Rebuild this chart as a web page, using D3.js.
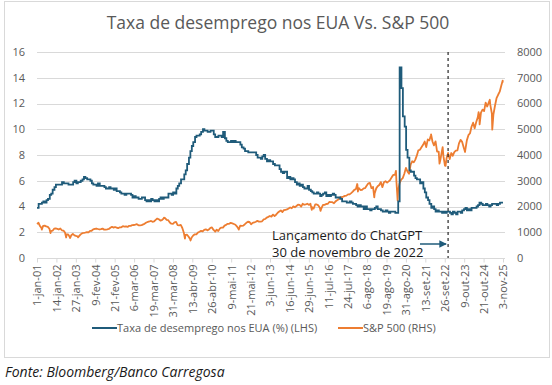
<!DOCTYPE html>
<html>
<head>
<meta charset="utf-8">
<script src="https://cdn.jsdelivr.net/npm/d3@7"></script>
<style>
  body { margin: 0; background: #fff; }
  text { font-family: "Open Sans", sans-serif; }
</style>
</head>
<body>
<div id="chart"></div>
<script>
// tick labels on the category axis (every 270 business days)
var tickLabels = ["1-jan-01","14-jan-02","27-jan-03","9-fev-04","21-fev-05","6-mar-06","19-mar-07",
  "31-mar-08","13-abr-09","26-abr-10","9-mai-11","21-mai-12","3-jun-13","16-jun-14","29-jun-15",
  "11-jul-16","24-jul-17","6-ago-18","19-ago-19","31-ago-20","13-set-21","26-set-22","9-out-23",
  "21-out-24","3-nov-25"];
var tickDates = ["2001-01-01","2002-01-14","2003-01-27","2004-02-09","2005-02-21","2006-03-06","2007-03-19",
  "2008-03-31","2009-04-13","2010-04-26","2011-05-09","2012-05-21","2013-06-03","2014-06-16","2015-06-29",
  "2016-07-11","2017-07-24","2018-08-06","2019-08-19","2020-08-31","2021-09-13","2022-09-26","2023-10-09",
  "2024-10-21","2025-11-03"];

// US unemployment rate (%), monthly, from Dec 2000 to Aug 2025
var unempStart = "2000-12";
var unemp = [3.9,
  4.2,4.2,4.3,4.4,4.3,4.5,4.6,4.9,5.0,5.3,5.5,5.7,
  5.7,5.7,5.7,5.9,5.8,5.8,5.8,5.7,5.7,5.7,5.9,6.0,
  5.8,5.9,5.9,6.0,6.1,6.3,6.2,6.1,6.1,6.0,5.8,5.7,
  5.7,5.6,5.8,5.6,5.6,5.6,5.5,5.4,5.4,5.5,5.4,5.4,
  5.3,5.4,5.2,5.2,5.1,5.0,5.0,4.9,5.0,5.0,5.0,4.9,
  4.7,4.8,4.7,4.7,4.6,4.6,4.7,4.7,4.5,4.4,4.5,4.4,
  4.6,4.5,4.4,4.5,4.4,4.6,4.7,4.6,4.7,4.7,4.7,5.0,
  5.0,4.9,5.1,5.0,5.4,5.6,5.8,6.1,6.1,6.5,6.8,7.3,
  7.8,8.3,8.7,9.0,9.4,9.5,9.5,9.6,9.8,10.0,9.9,9.9,
  9.8,9.8,9.9,9.9,9.6,9.4,9.4,9.5,9.5,9.4,9.8,9.3,
  9.1,9.0,9.0,9.1,9.0,9.1,9.0,9.0,9.0,8.8,8.6,8.5,
  8.3,8.3,8.2,8.2,8.2,8.2,8.2,8.0,7.8,7.8,7.7,7.9,
  8.0,7.7,7.5,7.6,7.5,7.5,7.3,7.2,7.2,7.2,6.9,6.7,
  6.6,6.7,6.7,6.2,6.3,6.1,6.2,6.1,5.9,5.7,5.8,5.6,
  5.7,5.5,5.4,5.4,5.6,5.3,5.2,5.1,5.0,5.0,5.1,5.0,
  4.8,4.9,5.0,5.1,4.8,4.9,4.8,4.9,5.0,4.9,4.7,4.7,
  4.7,4.6,4.4,4.4,4.4,4.3,4.3,4.4,4.3,4.2,4.2,4.1,
  4.0,4.1,4.0,4.0,3.8,4.0,3.8,3.8,3.7,3.8,3.8,3.9,
  4.0,3.8,3.8,3.7,3.6,3.6,3.7,3.6,3.5,3.6,3.6,3.6,
  3.5,3.5,4.4,14.8,13.2,11.0,10.2,8.4,7.8,6.8,6.7,6.7,
  6.4,6.2,6.1,6.1,5.8,5.9,5.4,5.1,4.7,4.5,4.2,3.9,
  4.0,3.8,3.6,3.7,3.6,3.6,3.5,3.6,3.5,3.6,3.6,3.5,
  3.4,3.6,3.5,3.4,3.6,3.6,3.5,3.7,3.8,3.9,3.7,3.8,
  3.7,3.9,3.9,3.9,4.0,4.1,4.3,4.2,4.1,4.1,4.2,4.1,
  4.0,4.1,4.2,4.2,4.2,4.1,4.2,4.3];

// S&P 500 month-end closes, from Dec 2000 to Oct 2025
var spStart = "2000-12";
var spMonthly = [1320,
  1366,1240,1160,1249,1256,1224,1211,1134,1041,1060,1139,1148,
  1130,1107,1147,1077,1067,990,912,916,815,886,936,880,
  856,841,848,917,964,975,990,1008,996,1051,1058,1112,
  1131,1145,1126,1107,1121,1141,1102,1104,1115,1130,1174,1212,
  1181,1204,1181,1157,1192,1191,1234,1220,1229,1207,1249,1248,
  1280,1281,1295,1311,1270,1270,1277,1304,1336,1378,1401,1418,
  1438,1407,1421,1482,1531,1503,1455,1474,1527,1549,1481,1468,
  1379,1331,1323,1386,1400,1280,1267,1283,1166,969,896,903,
  826,735,798,873,919,919,987,1021,1057,1036,1096,1115,
  1074,1104,1169,1187,1089,1031,1102,1049,1141,1183,1181,1258,
  1286,1327,1326,1364,1345,1321,1292,1219,1131,1253,1247,1258,
  1312,1366,1408,1398,1310,1362,1379,1407,1441,1412,1416,1426,
  1498,1515,1569,1598,1631,1606,1686,1633,1682,1757,1806,1848,
  1783,1859,1872,1884,1924,1960,1931,2003,1972,2018,2068,2059,
  1995,2105,2068,2086,2107,2063,2104,1972,1920,2079,2080,2044,
  1940,1932,2060,2065,2097,2099,2174,2171,2168,2126,2199,2239,
  2279,2364,2363,2384,2412,2423,2470,2472,2519,2575,2648,2674,
  2824,2714,2641,2648,2705,2718,2816,2902,2914,2711,2760,2507,
  2704,2784,2834,2946,2752,2942,2980,2926,2977,3038,3141,3231,
  3226,2954,2585,2912,3044,3100,3271,3500,3363,3270,3622,3756,
  3714,3811,3973,4181,4204,4298,4395,4523,4308,4605,4567,4766,
  4516,4374,4530,4132,4132,3785,4130,3955,3586,3872,4080,3840,
  4077,3970,4109,4169,4180,4450,4589,4508,4288,4194,4568,4770,
  4846,5096,5254,5036,5278,5460,5522,5648,5762,5705,6032,5882,
  6041,5955,5612,5569,5912,6205,6339,6460,6688,6840];

// intra-month highs and lows
var spExtraDates = ["2001-04-04","2001-09-21","2002-07-23","2002-10-09","2003-03-11","2007-10-09",
  "2008-11-20","2009-03-09","2010-07-02","2011-10-03","2015-08-25","2016-02-11","2018-01-26",
  "2018-02-08","2018-12-24","2020-02-19","2020-03-23","2022-01-03","2022-06-16","2022-08-16",
  "2022-10-12","2023-10-27","2024-07-16","2024-08-05","2025-02-19","2025-04-08","2025-10-28","2025-11-03"];
var spExtraValues = [1103,966,797,777,800,1565,
  752,677,1023,1099,1868,1829,2873,
  2581,2351,3386,2237,4797,3667,4305,
  3577,4117,5667,5186,6144,4983,6891,6852];

var width = 552, height = 385;
var plot = {left: 37, right: 505, top: 52, bottom: 258};
var blue = "#1f5b7a", orange = "#ed7d31", grey = "#595959";

var parse = d3.timeParse("%Y-%m-%d"), parseMonth = d3.timeParse("%Y-%m");

var svg = d3.select("#chart").append("svg")
  .attr("width", width).attr("height", height);

// chart frame
svg.append("rect")
  .attr("x", 4.5).attr("y", 1.5).attr("width", 545).attr("height", 356)
  .attr("fill", "#fff").attr("stroke", "#d9d9d9");

var x = d3.scaleTime()
  .domain([parse(tickDates[0]), parse(tickDates[tickDates.length - 1])])
  .range([plot.left, 503]);
var yL = d3.scaleLinear().domain([0, 16]).range([plot.bottom, plot.top]);
var yR = d3.scaleLinear().domain([0, 8000]).range([plot.bottom, plot.top]);

// gridlines
svg.append("g")
  .selectAll("line")
  .data(yL.ticks(8))
  .join("line")
    .attr("x1", plot.left).attr("x2", plot.right)
    .attr("y1", d => Math.round(yL(d)) + 0.5).attr("y2", d => Math.round(yL(d)) + 0.5)
    .attr("stroke", "#d9d9d9");

// left axis labels
svg.append("g")
  .selectAll("text")
  .data(yL.ticks(8))
  .join("text")
    .attr("x", 25).attr("y", d => yL(d)).attr("dy", "0.35em")
    .attr("text-anchor", "end").attr("font-size", 11).attr("fill", grey)
    .text(d => d);

// right axis labels
svg.append("g")
  .selectAll("text")
  .data(yR.ticks(8))
  .join("text")
    .attr("x", 517).attr("y", d => yR(d)).attr("dy", "0.35em")
    .attr("text-anchor", "start").attr("font-size", 11).attr("fill", grey)
    .text(d => d);

// x axis
var xAxis = d3.axisBottom(x)
  .tickValues(tickDates.map(parse))
  .tickSize(4)
  .tickFormat((d, i) => tickLabels[i]);

var gx = svg.append("g")
  .attr("transform", "translate(0," + (plot.bottom + 0.5) + ")")
  .call(xAxis);
gx.select(".domain").attr("stroke", "#d9d9d9").attr("d", "M" + plot.left + ",0H" + plot.right);
gx.selectAll(".tick line").attr("stroke", "#d9d9d9");
gx.selectAll(".tick text")
  .attr("font-family", "Open Sans, sans-serif")
  .attr("font-size", 11).attr("fill", grey)
  .attr("text-anchor", "end")
  .attr("transform", "rotate(-90)")
  .attr("x", -6).attr("y", 0).attr("dy", "0.35em");

// unemployment: shown from its release (first Friday of the next month)
var unempData = unemp.map((v, i) => {
  var m = d3.timeMonth.offset(parseMonth(unempStart), i + 1);
  return {date: d3.timeFriday.ceil(m), value: v};
});
unempData[0].date = x.domain()[0];
unempData.push({date: x.domain()[1], value: unemp[unemp.length - 1]});

var spData = spMonthly.map((v, i) => {
  var m = d3.timeMonth.offset(parseMonth(spStart), i + 1);
  return {date: d3.timeDay.offset(m, -1), value: v};
});
spData[0].date = x.domain()[0];
spExtraDates.forEach((d, i) => spData.push({date: parse(d), value: spExtraValues[i]}));
spData.sort((a, b) => a.date - b.date);

svg.append("path")
  .datum(spData)
  .attr("fill", "none")
  .attr("stroke", orange)
  .attr("stroke-width", 1.8)
  .attr("stroke-linejoin", "round")
  .attr("d", d3.line()
    .x(d => x(d.date))
    .y(d => yR(d.value))
  );

svg.append("path")
  .datum(unempData)
  .attr("fill", "none")
  .attr("stroke", blue)
  .attr("stroke-width", 1.8)
  .attr("d", d3.line()
    .x(d => x(d.date))
    .y(d => yL(d.value))
    .curve(d3.curveStepAfter)
  );

// ChatGPT launch marker
var launch = parse("2022-11-30");
svg.append("line")
  .attr("x1", x(launch)).attr("x2", x(launch))
  .attr("y1", plot.top).attr("y2", plot.bottom)
  .attr("stroke", "#262626").attr("stroke-width", 1.2)
  .attr("stroke-dasharray", "3,3");

svg.append("defs").append("marker")
  .attr("id", "arrow")
  .attr("viewBox", "0 0 10 10")
  .attr("refX", 9).attr("refY", 5)
  .attr("markerWidth", 5).attr("markerHeight", 5)
  .attr("orient", "auto")
  .append("path").attr("d", "M0,0L10,5L0,10z").attr("fill", blue);

svg.append("line")
  .attr("x1", 420).attr("x2", x(launch) - 2)
  .attr("y1", 244).attr("y2", 244)
  .attr("stroke", blue).attr("stroke-width", 1.5)
  .attr("marker-end", "url(#arrow)");

var note = svg.append("text")
  .attr("x", 272).attr("font-size", 13).attr("fill", "#1a1a1a");
note.append("tspan").attr("x", 272).attr("y", 240).text("Lançamento do ChatGPT");
note.append("tspan").attr("x", 272).attr("y", 257).text("30 de novembro de 2022");

// title
svg.append("text")
  .attr("x", 278).attr("y", 29)
  .attr("text-anchor", "middle")
  .attr("font-size", 17.5).attr("fill", grey)
  .text("Taxa de desemprego nos EUA Vs. S&P 500");

// legend
var legend = [
  {label: "Taxa de desemprego nos EUA (%) (LHS)", color: blue, x: 92},
  {label: "S&P 500 (RHS)", color: orange, x: 338}
];
var lg = svg.append("g").selectAll("g").data(legend).join("g")
  .attr("transform", d => "translate(" + d.x + ",328)");
lg.append("line").attr("x1", 0).attr("x2", 25)
  .attr("stroke", d => d.color).attr("stroke-width", 2);
lg.append("text").attr("x", 25).attr("dy", "0.35em")
  .attr("font-size", 11).attr("fill", grey)
  .text(d => d.label);

// source
svg.append("text")
  .attr("x", 5).attr("y", 377)
  .attr("font-size", 14).attr("font-style", "italic").attr("fill", "#1a1a1a")
  .text("Fonte: Bloomberg/Banco Carregosa");
</script>
</body>
</html>
